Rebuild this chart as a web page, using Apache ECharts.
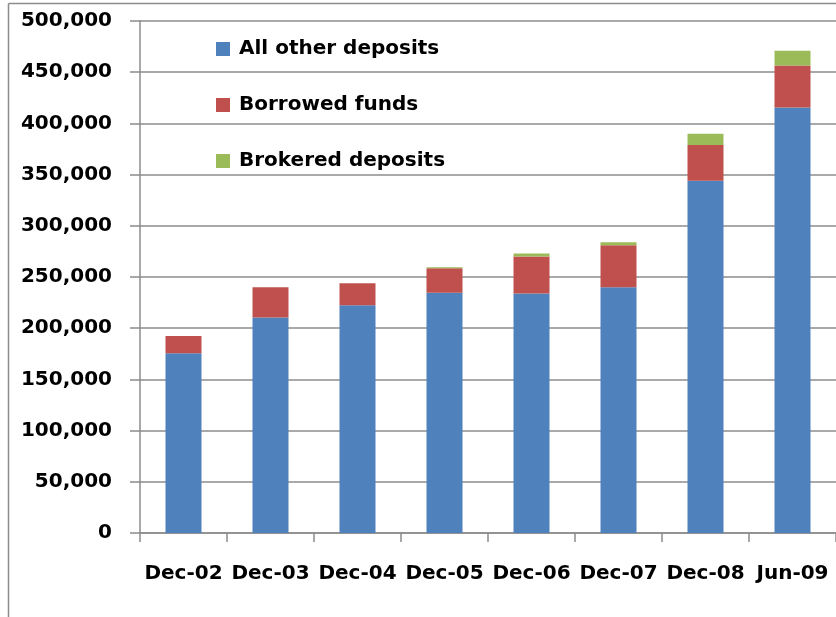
<!DOCTYPE html>
<html>
<head>
<meta charset="utf-8">
<script src="https://cdn.jsdelivr.net/npm/echarts@6/dist/echarts.min.js"></script>
<style>
  html, body { margin: 0; padding: 0; background: #fff; }
  #chart { width: 836px; height: 617px; }
</style>
</head>
<body>
<div id="chart"></div>
<script>
// Funding sources by period (thousands)
const categories = ['Dec-02', 'Dec-03', 'Dec-04', 'Dec-05', 'Dec-06', 'Dec-07', 'Dec-08', 'Jun-09'];
const allOtherDeposits = [175500, 210500, 222500, 234500, 234000, 240000, 344000, 415500];
const borrowedFunds = [17000, 29500, 21500, 24000, 36000, 41000, 35000, 41000];
const brokeredDeposits = [0, 0, 0, 1000, 3000, 3000, 11000, 14500];
const seriesNames = ['All other deposits', 'Borrowed funds', 'Brokered deposits'];

const FONT = '"DejaVu Sans", "Open Sans", sans-serif';
const colors = ['#4F81BD', '#C0504D', '#9BBB59'];

function barSeries(name, data, color) {
  return {
    name: name,
    type: 'bar',
    stack: 'total',
    data: data,
    barWidth: 36,
    itemStyle: { color: color }
  };
}

const chart = echarts.init(document.getElementById('chart'), null, { renderer: 'canvas' });
chart.setOption({
  animation: false,
  backgroundColor: '#fff',
  grid: { left: 140, right: 0, top: 21, bottom: 84, containLabel: false },
  legend: {
    orient: 'vertical',
    left: 211,
    top: 34,
    itemWidth: 14,
    itemHeight: 14,
    itemGap: 36,
    icon: 'rect',
    data: seriesNames,
    textStyle: { fontFamily: FONT, fontWeight: 'bold', fontSize: 20, color: '#000', lineHeight: 20, padding: [0, 0, 0, 4] }
  },
  xAxis: {
    type: 'category',
    data: categories,
    axisLine: { lineStyle: { color: '#8c8c8c', width: 1.5 } },
    axisTick: { show: true, length: 9, alignWithLabel: false, lineStyle: { color: '#8c8c8c', width: 1.5 } },
    axisLabel: { interval: 0, margin: 31, fontFamily: FONT, fontWeight: 'bold', fontSize: 20, color: '#000' }
  },
  yAxis: {
    type: 'value',
    min: 0,
    max: 500000,
    interval: 50000,
    axisLine: { show: true, lineStyle: { color: '#8c8c8c', width: 1.5 } },
    axisTick: { show: true, length: 10, lineStyle: { color: '#8c8c8c', width: 1.5 } },
    splitLine: { lineStyle: { color: '#8c8c8c', width: 1.5 } },
    axisLabel: {
      margin: 28,
      fontFamily: FONT, fontWeight: 'bold', fontSize: 20, color: '#000',
      formatter: v => v.toLocaleString('en-US')
    }
  },
  graphic: [
    { type: 'line', shape: { x1: 8.5, y1: 3.5, x2: 836, y2: 3.5 }, style: { stroke: '#8c8c8c', lineWidth: 1.5 } },
    { type: 'line', shape: { x1: 8.5, y1: 3.5, x2: 8.5, y2: 617 }, style: { stroke: '#8c8c8c', lineWidth: 1.5 } }
  ],
  series: [
    barSeries(seriesNames[0], allOtherDeposits, colors[0]),
    barSeries(seriesNames[1], borrowedFunds, colors[1]),
    barSeries(seriesNames[2], brokeredDeposits, colors[2])
  ]
});
</script>
</body>
</html>
